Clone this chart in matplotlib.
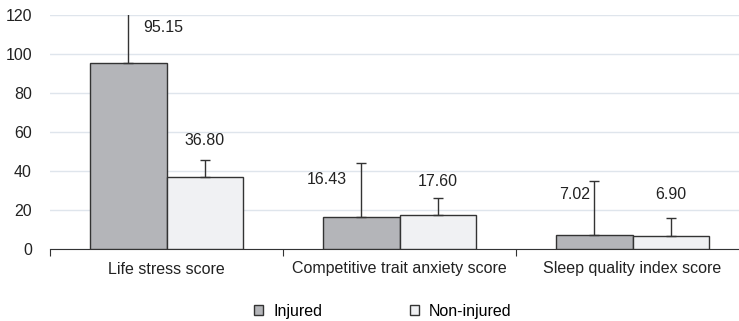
import matplotlib.pyplot as plt
import numpy as np
from matplotlib import font_manager

names = {f.name for f in font_manager.fontManager.ttflist}
fam = 'Liberation Sans Narrow' if 'Liberation Sans Narrow' in names else 'Liberation Sans'
plt.rcParams['font.family'] = [fam, 'DejaVu Sans']
fs = 13 if fam == 'Liberation Sans Narrow' else 11.5

# data
categories = ['Life stress score', 'Competitive trait anxiety score', 'Sleep quality index score']
injured = [95.15, 16.43, 7.02]
non_injured = [36.80, 17.60, 6.90]
injured_sd = [40.0, 27.9, 27.9]
non_injured_sd = [8.8, 8.7, 8.8]
labels_inj = ['95.15', '16.43', '7.02']
labels_non = ['36.80', '17.60', '6.90']
# where the value labels sit (data y) and sideways shift (points)
lab_y_inj = [113.5, 35.5, 27.8]
lab_dx_inj = [25, -25, -14]
lab_y_non = [55.8, 34.6, 27.8]

fig = plt.figure(figsize=(7.39, 3.21), dpi=100)
ax = fig.add_axes([50/739, 72/321, 1 - 50/739, 234/321])

x = np.arange(len(categories))
w = 0.33
edge = '#333333'
ax.bar(x - w/2, injured, w, color='#b4b5b9', edgecolor=edge, linewidth=1, zorder=3, label='Injured')
ax.bar(x + w/2, non_injured, w, color='#f0f1f3', edgecolor=edge, linewidth=1, zorder=3, label='Non-injured')
ax.errorbar(x - w/2, injured, yerr=[np.zeros(3), injured_sd], fmt='none', ecolor=edge,
            elinewidth=1, capsize=3.3, capthick=1, zorder=4)
ax.errorbar(x + w/2, non_injured, yerr=[np.zeros(3), non_injured_sd], fmt='none', ecolor=edge,
            elinewidth=1, capsize=3.3, capthick=1, zorder=4)

for i in range(len(categories)):
    ax.annotate(labels_inj[i], (x[i] - w/2, lab_y_inj[i]), xytext=(lab_dx_inj[i], 0),
                textcoords='offset points', ha='center', va='center', fontsize=fs, color='#222222')
    ax.annotate(labels_non[i], (x[i] + w/2, lab_y_non[i]), ha='center', va='center',
                fontsize=fs, color='#222222')

ax.set_ylim(0, 120)
ax.set_xlim(-0.5, 2.457)
ax.set_yticks(np.arange(0, 121, 20))
ax.yaxis.grid(True, color='#dfe5ec', linewidth=1, zorder=0)
ax.set_axisbelow(True)
for s in ['top', 'right', 'left']:
    ax.spines[s].set_visible(False)
ax.spines['bottom'].set_color(edge)
ax.tick_params(axis='y', length=0, labelsize=fs, pad=13, labelcolor='#222222')

ax.set_xticks([-0.5, 0.5, 1.5])
ax.set_xticklabels([])
ax.set_xticks(x, minor=True)
ax.set_xticklabels(categories, minor=True)
ax.tick_params(axis='x', which='major', length=5, color=edge)
ax.tick_params(axis='x', which='minor', length=0, labelsize=fs, pad=9, labelcolor='#222222')

ax.legend(loc='center', bbox_to_anchor=(0.483, -0.265), ncol=2, frameon=False,
          fontsize=fs, handlelength=0.6, handleheight=0.6, columnspacing=5.5, handletextpad=0.6,
          borderpad=0, borderaxespad=0)

fig.savefig('out.png', dpi=100)
